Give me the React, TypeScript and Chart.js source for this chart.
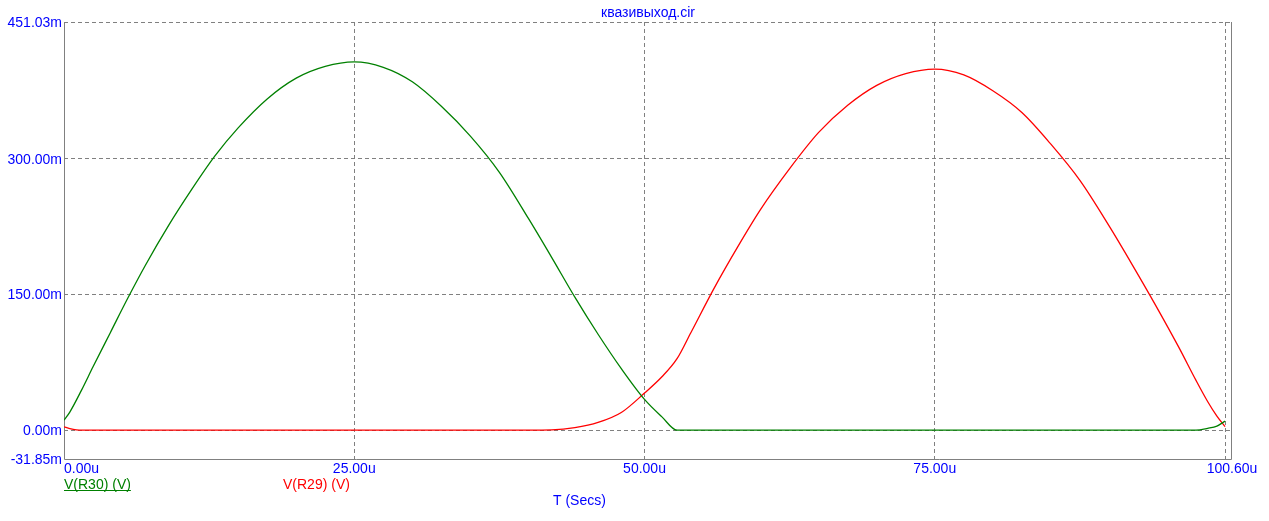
import React, { useEffect, useRef } from "react";
import { Chart, registerables } from "chart.js";

Chart.register(...registerables);

// ---- data (time in µs, voltages in mV) ----
const chartTitle = "квазивыход.cir";
const axisTitle = "T (Secs)";

const timeUs = [
  0, 0.5, 1.5, 2.5, 4, 5.5, 7, 9, 11, 13, 15, 17.5, 20, 22.5, 25, 27.5, 30,
  32.5, 35, 37.5, 40, 42, 44, 46, 48, 50, 51.5, 52.8, 54, 56, 58, 60, 62.5,
  65, 67.5, 70, 72.5, 75, 77.5, 80, 82.5, 85, 87.5, 90, 92, 94, 96, 97.5,
  98.5, 99.3, 100,
];

const vR30 = [
  11, 20, 44, 70, 108, 146, 182, 226, 266, 303, 334, 366, 389, 402, 407, 401,
  385, 358, 325, 285, 234, 191, 147, 106, 68, 34, 14.7, 0, 0, 0, 0, 0, 0, 0,
  0, 0, 0, 0, 0, 0, 0, 0, 0, 0, 0, 0, 0, 0, 2, 4.5, 10,
];

const vR29 = [
  3.7, 1.8, 0, 0, 0, 0, 0, 0, 0, 0, 0, 0, 0, 0, 0, 0, 0, 0, 0, 0, 0, 0.3,
  2.8, 8.5, 19.5, 41, 59, 79, 108, 157, 202, 244, 289, 329, 359, 381, 394,
  399, 392.5, 375, 351, 316, 276, 226, 183, 138.5, 92, 55, 31.7, 15.5, 4,
];

const seriesNames = ["V(R30) (V)", "V(R29) (V)"];
const seriesColors = ["#008000", "#ff0000"];

const xMin = 0;
const xMax = 100.6;
const yMin = -31.85;
const yMax = 451.03;

const xGridValues = [25, 50, 75, 100];
const yGridValues = [0, 150, 300, 451.03];

const xTickValues = [0, 25, 50, 75, 100.6];
const xTickLabels = ["0.00u", "25.00u", "50.00u", "75.00u", "100.60u"];
const yTickValues = [451.03, 300, 150, 0, -31.85];
const yTickLabels = ["451.03m", "300.00m", "150.00m", "0.00m", "-31.85m"];

const FONT = '14px "Liberation Sans", Arial, sans-serif';
const BLUE = "#0000ff";
const GRID = "#808080";

const decorPlugin = {
  id: "decor",
  beforeDatasetsDraw(chart: any) {
    const { ctx, chartArea } = chart;
    const { left, right, top, bottom } = chartArea;
    ctx.save();
    ctx.strokeStyle = GRID;
    ctx.lineWidth = 1;
    ctx.setLineDash([]);
    ctx.beginPath();
    ctx.moveTo(left + 0.5, top);
    ctx.lineTo(left + 0.5, bottom + 0.5);
    ctx.lineTo(right - 0.5, bottom + 0.5);
    ctx.lineTo(right - 0.5, top);
    ctx.stroke();
    ctx.restore();
  },
  afterDraw(chart: any) {
    const { ctx, chartArea, scales } = chart;
    const xs = scales.x;
    const ys = scales.y;
    ctx.save();
    ctx.font = FONT;
    ctx.textBaseline = "alphabetic";

    ctx.fillStyle = BLUE;
    ctx.textAlign = "center";
    ctx.fillText(chartTitle, (chartArea.left + chartArea.right) / 2, 17);

    ctx.textAlign = "right";
    yTickValues.forEach((v, i) => {
      const py = ys.getPixelForValue(v);
      ctx.fillText(yTickLabels[i], chartArea.left - 2, py + 5);
    });

    xTickValues.forEach((v, i) => {
      const px = xs.getPixelForValue(v);
      ctx.textAlign = i === 0 ? "left" : "center";
      ctx.fillText(xTickLabels[i], px, chartArea.bottom + 14);
    });

    ctx.textAlign = "left";
    ctx.fillText(axisTitle, 553, chartArea.bottom + 45.5);

    const legendY = chartArea.bottom + 29.5;
    ctx.fillStyle = seriesColors[0];
    ctx.fillText(seriesNames[0], chartArea.left, legendY);
    const w0 = ctx.measureText(seriesNames[0]).width;
    ctx.strokeStyle = seriesColors[0];
    ctx.lineWidth = 1;
    ctx.beginPath();
    ctx.moveTo(chartArea.left, legendY + 2);
    ctx.lineTo(chartArea.left + w0, legendY + 2);
    ctx.stroke();

    ctx.fillStyle = seriesColors[1];
    ctx.fillText(seriesNames[1], 283, legendY);
    ctx.restore();
  },
};

export default function App() {
  const canvasRef = useRef<HTMLCanvasElement | null>(null);

  useEffect(() => {
    const canvas = canvasRef.current;
    if (!canvas) return;
    const mk = (vals: number[]) => timeUs.map((t, i) => ({ x: t, y: vals[i] }));
    const chart = new Chart(canvas, {
      type: "line",
      data: {
        datasets: [
          {
            label: seriesNames[0],
            data: mk(vR30),
            borderColor: seriesColors[0],
            borderWidth: 1.3,
            pointRadius: 0,
            fill: false,
            cubicInterpolationMode: "monotone",
          },
          {
            label: seriesNames[1],
            data: mk(vR29),
            borderColor: seriesColors[1],
            borderWidth: 1.3,
            pointRadius: 0,
            fill: false,
            cubicInterpolationMode: "monotone",
          },
        ],
      },
      options: {
        animation: false,
        responsive: false,
        devicePixelRatio: 1,
        layout: { padding: { left: 64, top: 22, right: 37, bottom: 62 } },
        plugins: {
          legend: { display: false },
          tooltip: { enabled: false },
          title: { display: false },
        },
        scales: {
          x: {
            type: "linear",
            min: xMin,
            max: xMax,
            afterBuildTicks: (s: any) => {
              s.ticks = xGridValues.map((v) => ({ value: v }));
            },
            ticks: { display: false },
            grid: { color: GRID, lineWidth: 1, drawTicks: false },
            border: { display: false, dash: [4, 3] },
          },
          y: {
            type: "linear",
            min: yMin,
            max: yMax,
            afterBuildTicks: (s: any) => {
              s.ticks = yGridValues.map((v) => ({ value: v }));
            },
            ticks: { display: false },
            grid: { color: GRID, lineWidth: 1, drawTicks: false },
            border: { display: false, dash: [4, 3] },
          },
        },
      },
      plugins: [decorPlugin],
    } as any);
    return () => chart.destroy();
  }, []);

  return (
    <div style={{ position: "absolute", left: 0, top: 0, width: 1269, height: 521, background: "#fff" }}>
      <canvas ref={canvasRef} width={1269} height={521} style={{ display: "block" }} />
    </div>
  );
}
